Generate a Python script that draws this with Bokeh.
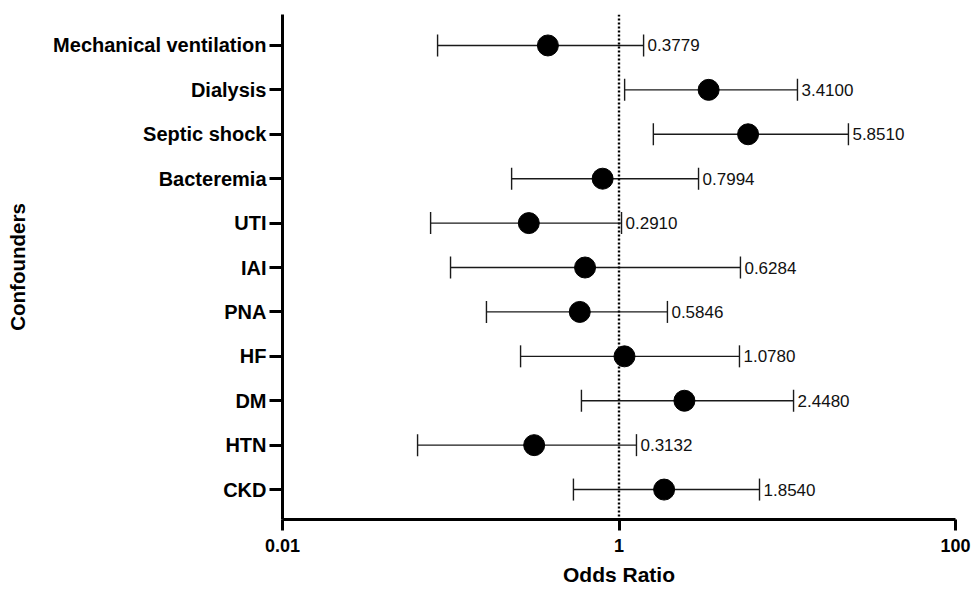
from bokeh.plotting import figure
from bokeh.models import ColumnDataSource, Whisker, TeeHead, Span, FixedTicker, Range1d
from bokeh.embed import file_html
from bokeh.resources import INLINE
from bokeh.core.properties import value

confounders = ["Mechanical ventilation", "Dialysis", "Septic shock", "Bacteremia", "UTI",
               "IAI", "PNA", "HF", "DM", "HTN", "CKD"]
odds_ratio = [0.3779, 3.4100, 5.8510, 0.7994, 0.2910, 0.6284, 0.5846, 1.0780, 2.4480, 0.3132, 1.8540]
ci_lower = [0.0835, 1.08, 1.60, 0.230, 0.0759, 0.0997, 0.163, 0.260, 0.598, 0.0635, 0.536]
ci_upper = [1.40, 11.5, 23.1, 2.97, 1.035, 5.27, 1.94, 5.20, 10.9, 1.27, 6.84]
x_ticks = [0.01, 1, 100]
x_tick_labels = ["0.01", "1", "100"]

n = len(confounders)
ypos = [n - i for i in range(n)]
labels = ["%.4f" % v for v in odds_ratio]

src = ColumnDataSource(dict(y=ypos, orv=odds_ratio, lo=ci_lower, hi=ci_upper, lab=labels))

FONT = "Liberation Sans"

p = figure(width=972, height=591, x_axis_type="log",
           x_range=Range1d(0.01, 100), y_range=Range1d(0.326, n + 0.697),
           output_backend="svg", toolbar_location=None,
           min_border_left=282, min_border_right=17, min_border_top=14, min_border_bottom=72)
p.outline_line_color = None
p.xgrid.visible = False
p.ygrid.visible = False
p.background_fill_color = "white"

# reference line at OR = 1
p.add_layout(Span(location=1, dimension="height", line_color="black",
                  line_width=2.4, line_dash="2 2"))

wh = Whisker(source=src, base="y", lower="lo", upper="hi", dimension="width",
             line_color="#1a1a1a", line_width=1.4,
             upper_head=TeeHead(size=22, line_color="#1a1a1a", line_width=1.4),
             lower_head=TeeHead(size=22, line_color="#1a1a1a", line_width=1.4))
p.add_layout(wh)

p.scatter(x="orv", y="y", source=src, size=21, color="black")

p.text(x="hi", y="y", text="lab", source=src, x_offset=4,
       text_baseline="middle", text_align="left",
       text_font=value(FONT), text_font_size="17px", text_color="#111111")

# x axis
xa = p.xaxis[0]
xa.ticker = FixedTicker(ticks=x_ticks, minor_ticks=[])
xa.major_label_overrides = {t: l for t, l in zip(x_ticks, x_tick_labels)}
xa.axis_line_width = 3
xa.major_tick_line_width = 3
xa.major_tick_out = 11
xa.major_tick_in = 0
xa.minor_tick_line_color = None
xa.major_label_text_font = FONT
xa.major_label_text_font_style = "bold"
xa.major_label_text_font_size = "18px"
xa.major_label_text_color = "black"
xa.major_label_standoff = 8
xa.axis_label = "Odds Ratio"
xa.axis_label_text_font = FONT
xa.axis_label_text_font_style = "bold"
xa.axis_label_text_font_size = "21px"
xa.axis_label_text_color = "black"
xa.axis_label_standoff = 8

# y axis
ya = p.yaxis[0]
ya.ticker = FixedTicker(ticks=ypos, minor_ticks=[])
ya.major_label_overrides = {y: c for y, c in zip(ypos, confounders)}
ya.axis_line_width = 3
ya.major_tick_line_width = 3
ya.major_tick_out = 13
ya.major_tick_in = 0
ya.minor_tick_line_color = None
ya.major_label_text_font = FONT
ya.major_label_text_font_style = "bold"
ya.major_label_text_font_size = "20px"
ya.major_label_text_color = "black"
ya.major_label_standoff = 3
ya.axis_label = "Confounders"
ya.axis_label_text_font = FONT
ya.axis_label_text_font_style = "bold"
ya.axis_label_text_font_size = "20.5px"
ya.axis_label_text_color = "black"
ya.axis_label_standoff = 21

open("out.html", "w").write(file_html(p, INLINE))
